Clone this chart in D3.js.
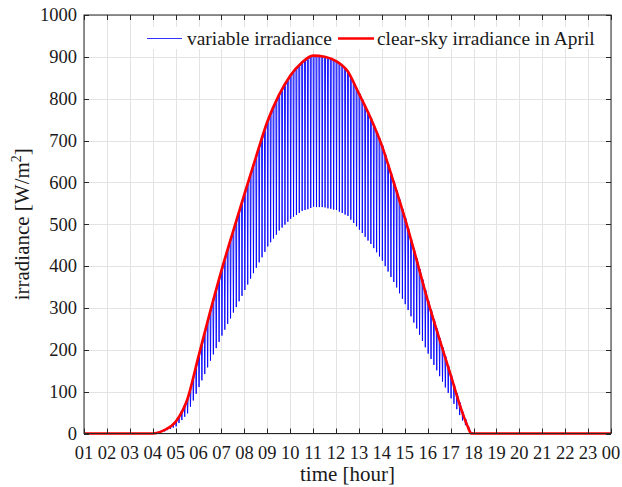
<!DOCTYPE html>
<html>
<head>
<meta charset="utf-8">
<script src="https://cdn.jsdelivr.net/npm/d3@7/dist/d3.min.js"></script>
<style>
  html, body { margin: 0; padding: 0; background: #fff; }
  svg { display: block; }
  text { font-family: "Liberation Serif", "Times New Roman", serif; fill: #1a1a1a; }
</style>
</head>
<body>
<svg id="chart" width="622" height="487"></svg>
<script>
// Hour-of-day tick positions (01 ... 24, where 24 is shown as "00")
const hourTicks = d3.range(1, 25);
const hourLabels = hourTicks.map(h => String(h % 24).padStart(2, "0"));
const irradianceTicks = d3.range(0, 1001, 100);

// Clear-sky irradiance in April [W/m²] against hour of day
const clearHours = [1, 4, 4.5, 5, 5.5, 6, 6.5, 7, 7.5, 8, 8.5, 9, 9.5, 10, 10.5, 11, 11.5,
  12, 12.5, 13, 13.5, 14, 14.5, 15, 15.5, 16, 16.5, 17, 17.5, 17.75, 17.9, 24];
const clearSky = [0, 0, 8, 28, 80, 185, 290, 390, 482, 572, 660, 745, 808, 855, 886, 903, 900,
  890, 866, 812, 755, 688, 603, 515, 418, 318, 228, 140, 52, 16, 0, 0];

// Variable irradiance: a short cloud dip every 7.5 minutes from 04:00 to 18:00.
// variableHigh is the level at the start of each dip, variableLow the bottom of the dip.
const variableStart = 4;
const variableStepHours = 7.5 / 60;
const dipHalfWidthHours = 1.25 / 60;
const variableHigh = [
  0, 2, 4, 6, 8, 13, 18, 23,
  28, 41, 54, 67, 80, 106, 132, 159,
  185, 211, 237, 264, 290, 315, 340, 365,
  390, 413, 436, 459, 482, 504, 527, 549,
  572, 594, 616, 638, 660, 681, 702, 724,
  745, 761, 776, 792, 808, 820, 831, 843,
  855, 863, 870, 878, 886, 890, 894, 899,
  903, 902, 901, 901, 900, 897, 895, 892,
  890, 884, 878, 872, 866, 852, 839, 825,
  812, 798, 783, 769, 755, 738, 721, 705,
  688, 667, 645, 624, 603, 581, 559, 537,
  515, 491, 466, 442, 418, 393, 368, 343,
  318, 296, 273, 251, 228, 206, 184, 162,
  140, 118, 96, 74, 52, 34, 16, 3,
  0
];
const variableLow = [
  0, 1, 2, 4, 5, 8, 11, 14,
  17, 25, 32, 40, 48, 64, 79, 95,
  111, 127, 142, 158, 174, 189, 204, 219,
  234, 248, 262, 275, 289, 302, 316, 329,
  343, 356, 370, 383, 396, 409, 421, 434,
  447, 457, 466, 475, 485, 492, 499, 506,
  513, 518, 522, 527, 532, 534, 536, 539,
  542, 541, 541, 541, 540, 538, 537, 535,
  534, 530, 527, 523, 520, 511, 503, 495,
  487, 479, 470, 461, 453, 443, 433, 423,
  413, 400, 387, 374, 362, 349, 335, 322,
  309, 295, 280, 265, 251, 236, 221, 206,
  191, 178, 164, 151, 137, 124, 110, 97,
  84, 71, 58, 44, 31, 20, 10, 2
];

const svg = d3.select("#chart");
const plotLeft = 84, plotRight = 611, plotTop = 15, plotBottom = 433.5;

const x = d3.scaleLinear().domain([1, 24]).range([plotLeft, plotRight]);
const y = d3.scaleLinear().domain([0, 1000]).range([plotBottom, plotTop]);

const axisColor = "#262626";
const tickLen = 5;

// Grid
const grid = svg.append("g").attr("stroke", "#e3e3e3").attr("stroke-width", 1);
grid.selectAll(".vg").data(hourTicks).join("line")
  .attr("x1", d => Math.round(x(d)) + 0.5).attr("x2", d => Math.round(x(d)) + 0.5)
  .attr("y1", plotTop).attr("y2", plotBottom);
grid.selectAll(".hg").data(irradianceTicks).join("line")
  .attr("x1", plotLeft).attr("x2", plotRight)
  .attr("y1", d => Math.round(y(d)) + 0.5).attr("y2", d => Math.round(y(d)) + 0.5);

// Clip to the plotting area
svg.append("clipPath").attr("id", "plotArea")
  .append("rect").attr("x", plotLeft).attr("y", plotTop - 2)
  .attr("width", plotRight - plotLeft).attr("height", plotBottom - plotTop + 4);

const plot = svg.append("g").attr("clip-path", "url(#plotArea)");

// Variable irradiance: level, sharp dip and recovery, then on to the next level
const variablePoints = [];
variableHigh.forEach((h, k) => {
  const t = variableStart + k * variableStepHours;
  variablePoints.push([t, h]);
  if (k < variableLow.length) {
    variablePoints.push([t + dipHalfWidthHours, variableLow[k]]);
    variablePoints.push([t + 2 * dipHalfWidthHours, h]);
  }
});
plot.append("path")
  .datum(variablePoints)
  .attr("fill", "none")
  .attr("stroke", "#0000ff")
  .attr("stroke-width", 0.9)
  .attr("d", d3.line().x(d => x(d[0])).y(d => y(d[1])));

// Clear-sky irradiance
plot.append("path")
  .datum(clearHours.map((h, i) => [h, clearSky[i]]))
  .attr("fill", "none")
  .attr("stroke", "#ff0000")
  .attr("stroke-width", 2.6)
  .attr("stroke-linejoin", "round")
  .attr("d", d3.line().curve(d3.curveMonotoneX).x(d => x(d[0])).y(d => y(d[1])));

// Axes box with inward ticks
const frame = svg.append("g").attr("stroke", axisColor).attr("stroke-width", 1);
frame.append("rect").attr("x", plotLeft).attr("y", plotTop)
  .attr("width", plotRight - plotLeft).attr("height", plotBottom - plotTop)
  .attr("fill", "none");
hourTicks.forEach(h => {
  const px = Math.round(x(h)) + 0.5;
  frame.append("line").attr("x1", px).attr("x2", px).attr("y1", plotBottom).attr("y2", plotBottom - tickLen);
  frame.append("line").attr("x1", px).attr("x2", px).attr("y1", plotTop).attr("y2", plotTop + tickLen);
});
irradianceTicks.forEach(v => {
  const py = Math.round(y(v)) + 0.5;
  frame.append("line").attr("x1", plotLeft).attr("x2", plotLeft + tickLen).attr("y1", py).attr("y2", py);
  frame.append("line").attr("x1", plotRight).attr("x2", plotRight - tickLen).attr("y1", py).attr("y2", py);
});

// Tick labels
svg.append("g").selectAll("text").data(hourTicks).join("text")
  .attr("x", d => x(d)).attr("y", 459)
  .attr("text-anchor", "middle").attr("font-size", 18.5)
  .text((d, i) => hourLabels[i]);
svg.append("g").selectAll("text").data(irradianceTicks).join("text")
  .attr("x", 77).attr("y", d => y(d)).attr("dy", "0.34em")
  .attr("text-anchor", "end").attr("font-size", 18.5)
  .text(d => d);

// Axis titles
svg.append("text").attr("x", (plotLeft + plotRight) / 2).attr("y", 481)
  .attr("text-anchor", "middle").attr("font-size", 21)
  .text("time [hour]");
const yTitle = svg.append("text")
  .attr("transform", `translate(29,${(plotTop + plotBottom) / 2}) rotate(-90)`)
  .attr("text-anchor", "middle").attr("font-size", 21);
yTitle.append("tspan").text("irradiance [W/m");
yTitle.append("tspan").attr("font-size", 14).attr("dy", "-0.55em").text("2");
yTitle.append("tspan").attr("dy", "0.385em").text("]");

// Legend
const legend = svg.append("g");
legend.append("rect").attr("x", 140).attr("y", 27).attr("width", 466).attr("height", 22).attr("fill", "#fff");
const legendY = 38.5;
legend.append("line").attr("x1", 147).attr("x2", 182).attr("y1", legendY).attr("y2", legendY)
  .attr("stroke", "#3333ff").attr("stroke-width", 1.2);
legend.append("text").attr("x", 187).attr("y", legendY).attr("dy", "0.33em").attr("font-size", 19.4)
  .text("variable irradiance");
legend.append("line").attr("x1", 338).attr("x2", 374).attr("y1", legendY).attr("y2", legendY)
  .attr("stroke", "#ff0000").attr("stroke-width", 2.6);
legend.append("text").attr("x", 377).attr("y", legendY).attr("dy", "0.33em").attr("font-size", 19.4)
  .text("clear-sky irradiance in April");
</script>
</body>
</html>
